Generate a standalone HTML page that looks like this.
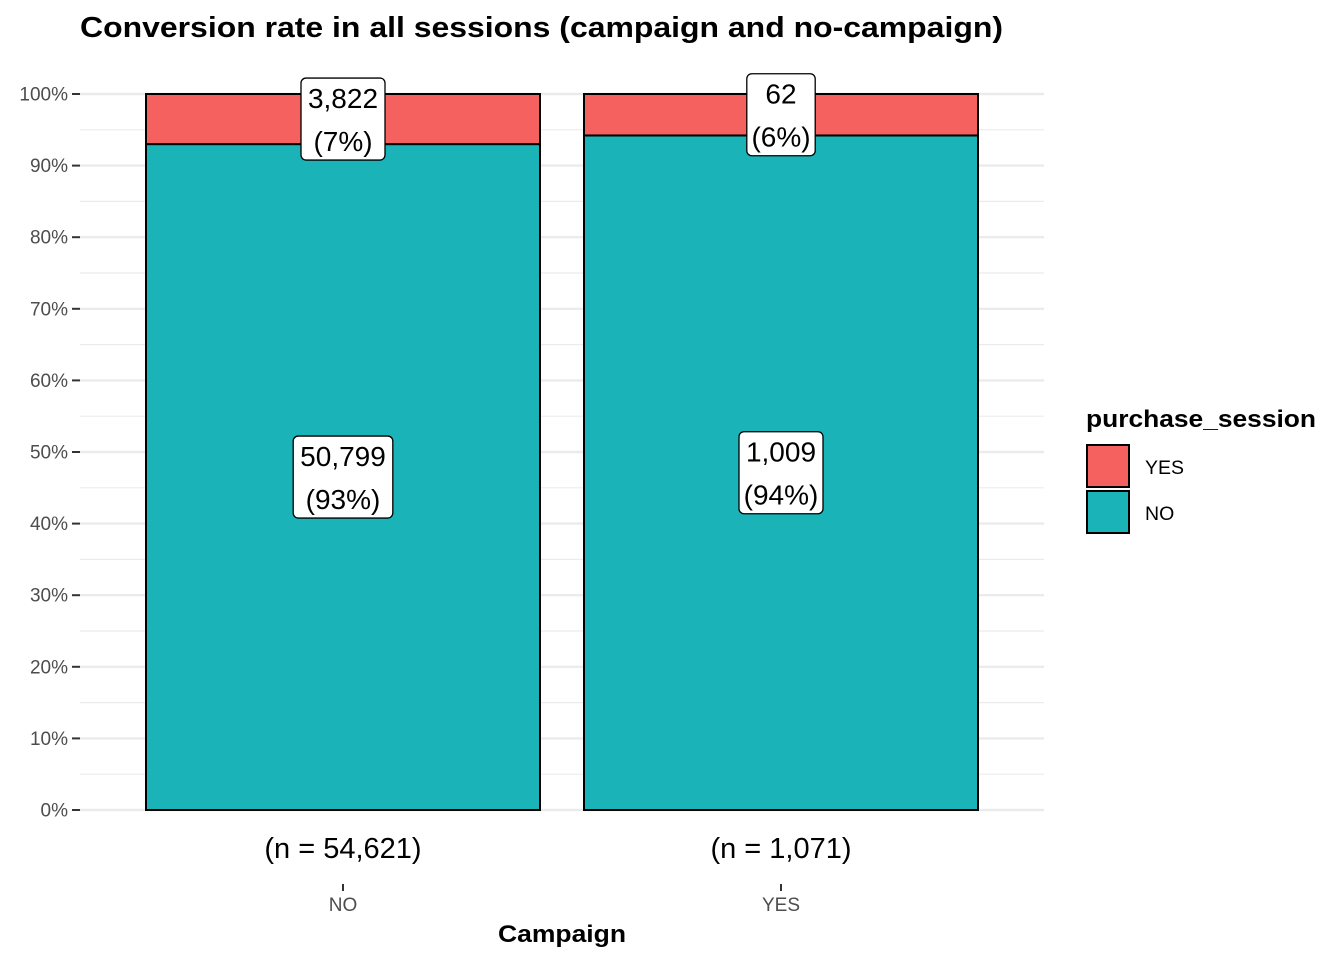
<!DOCTYPE html>
<html><head><meta charset="utf-8"><style>
body{margin:0;background:#fff;font-family:"Liberation Sans",Arial,sans-serif}
svg text{font-family:"Liberation Sans",Arial,sans-serif}
</style></head><body>
<svg id="chart" width="1344" height="960" viewBox="0 0 1344 960">
<text x="80" y="37" font-size="29" font-weight="bold" fill="#000" textLength="923" lengthAdjust="spacingAndGlyphs">Conversion rate in all sessions (campaign and no-campaign)</text>
<g id="grid"></g><g id="bars"></g><g id="labels"></g><g id="axes"></g>
<text x="498" y="942" font-size="24" font-weight="bold" textLength="128" lengthAdjust="spacingAndGlyphs">Campaign</text>
<g>
<text x="1086" y="427" font-size="24" font-weight="bold" textLength="230" lengthAdjust="spacingAndGlyphs">purchase_session</text>
<g><rect x="1087" y="445" width="42" height="42" fill="#F4615E" stroke="#000" stroke-width="2"/><text x="1145" y="474" font-size="19.5">YES</text></g>
<g><rect x="1087" y="491" width="42" height="42" fill="#1AB3B8" stroke="#000" stroke-width="2"/><text x="1145" y="520" font-size="19.5">NO</text></g>
</g>
</svg>
<script>
const categories=["NO","YES"];
const yesCounts=[3822,62];
const noCounts=[50799,1009];
const yTicks=[0,10,20,30,40,50,60,70,80,90,100];
const NS="http://www.w3.org/2000/svg";
const y0=810,y1=94,px0=80,px1=1044;
const yS=p=>y0-(y0-y1)*p/100;
const xC=i=>343+i*438;
const bw=394;
function mk(t,a,parent){const e=document.createElementNS(NS,t);for(const k in a)e.setAttribute(k,a[k]);parent.appendChild(e);return e;}
const grid=document.getElementById('grid'),bars=document.getElementById('bars'),labels=document.getElementById('labels'),axes=document.getElementById('axes');
for(let v=0;v<=100;v+=5){
 const g=mk('line',{x1:px0,x2:px1,y1:yS(v),y2:yS(v),stroke:'#ebebeb','stroke-width':v%10?1.2:2.4},grid);
 
 
}
yTicks.forEach(v=>{
 const t=mk('text',{x:68,y:yS(v)+6.5,'font-size':19,'text-anchor':'end',fill:'#4d4d4d'},axes);t.textContent=v+'%';
 
 
 mk('line',{x1:72,x2:80,y1:yS(v),y2:yS(v),stroke:'#333','stroke-width':2},axes);
});
const fmt=n=>n.toLocaleString('en-US');
function box(cx,cy,l1,l2){
 const g=mk('g',{},labels);
 
 
 const w=Math.max(l1.length,l2.length)*15.6+6;
 mk('rect',{x:cx-w/2,y:cy-41,width:w,height:82,rx:5,fill:'#fff',stroke:'#000','stroke-width':1.3},g);
 const a=mk('text',{x:cx,y:cy-11,'font-size':28,'text-anchor':'middle'},g);a.textContent=l1;
 const b=mk('text',{x:cx,y:cy+32,'font-size':28,'text-anchor':'middle'},g);b.textContent=l2;
}
categories.forEach((c,i)=>{
 const tot=yesCounts[i]+noCounts[i];
 const pNo=noCounts[i]/tot*100,pYes=yesCounts[i]/tot*100;
 const x=xC(i)-bw/2;
 const r1=mk('rect',{x:x,y:yS(pNo),width:bw,height:yS(0)-yS(pNo),fill:'#1AB3B8',stroke:'#000','stroke-width':2},bars);
 
 
 const r2=mk('rect',{x:x,y:yS(100),width:bw,height:yS(pNo)-yS(100),fill:'#F4615E',stroke:'#000','stroke-width':2},bars);
 
 
 box(xC(i),yS(pNo/2),fmt(noCounts[i]),'('+Math.round(pNo)+'%)');
 box(xC(i),yS(pNo+pYes/2),fmt(yesCounts[i]),'('+Math.round(pYes)+'%)');
 const n=mk('text',{x:xC(i),y:858,'font-size':29,'text-anchor':'middle'},labels);n.textContent='(n = '+fmt(tot)+')';
 
 
 mk('line',{x1:xC(i),x2:xC(i),y1:884,y2:891,stroke:'#333','stroke-width':2},axes);
 const t=mk('text',{x:xC(i),y:911,'font-size':19,'text-anchor':'middle',fill:'#4d4d4d'},axes);t.textContent=c;
 
 
});
</script>
</body></html>
